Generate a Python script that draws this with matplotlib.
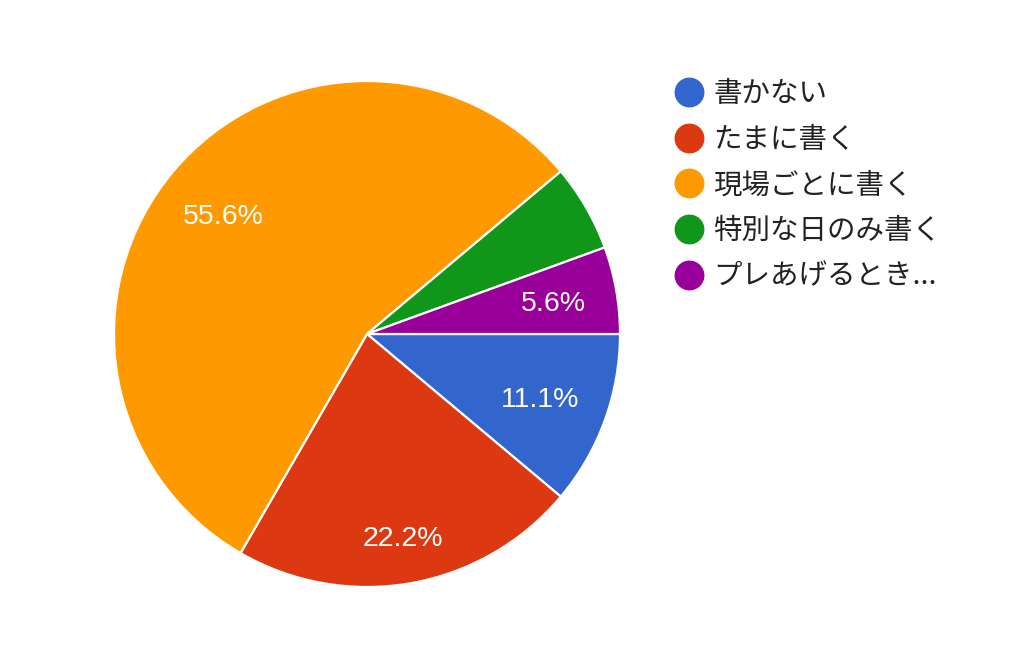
import matplotlib
matplotlib.use("Agg")
import matplotlib.pyplot as plt
from matplotlib.lines import Line2D
import numpy as np

categories = ["書かない", "たまに書く", "現場ごとに書く", "特別な日のみ書く", "プレあげるとき..."]
counts = [2, 4, 10, 1, 1]
pct_labels = ["11.1%", "22.2%", "55.6%", "", "5.6%"]
colors = ["#3366cc", "#dc3912", "#ff9900", "#109618", "#990099"]

W, H = 1024, 661
fig = plt.figure(figsize=(W / 100, H / 100), dpi=100)
ax = fig.add_axes([0, 0, 1, 1])

cx, cy, r = 367, H - 334, 253
wedges, _ = ax.pie(counts, colors=colors, startangle=0, counterclock=False,
                   center=(cx, cy), radius=r,
                   wedgeprops=dict(edgecolor="white", linewidth=1.6))

label_dist = [0.73, 0.81, 0.74, 0.75, 0.75]
for w, lab, d in zip(wedges, pct_labels, label_dist):
    if not lab:
        continue
    ang = np.deg2rad((w.theta1 + w.theta2) / 2)
    x = cx + d * r * np.cos(ang)
    y = cy + d * r * np.sin(ang) - 3
    ax.text(x, y, lab, ha="center", va="center", color="white",
            fontsize=20.5, family=["Liberation Sans", "DejaVu Sans"])

ax.set_xlim(0, W)
ax.set_ylim(0, H)
ax.set_aspect("equal", adjustable="box")
ax.axis("off")

handles = [Line2D([0], [0], marker="o", linestyle="none", markersize=20.5,
                  markerfacecolor=c, markeredgecolor=c) for c in colors]
leg = ax.legend(handles, categories, loc="upper left",
                bbox_to_anchor=(675 / W, 1 - 79 / H), frameon=False,
                prop={"family": ["Noto Sans CJK JP", "DejaVu Sans"], "size": 20.5},
                handlelength=1.0, handletextpad=0.35, labelspacing=0.55,
                borderaxespad=0, borderpad=0)
for t in leg.get_texts():
    t.set_color("#222222")

fig.savefig("out.png", dpi=100, facecolor="white")
